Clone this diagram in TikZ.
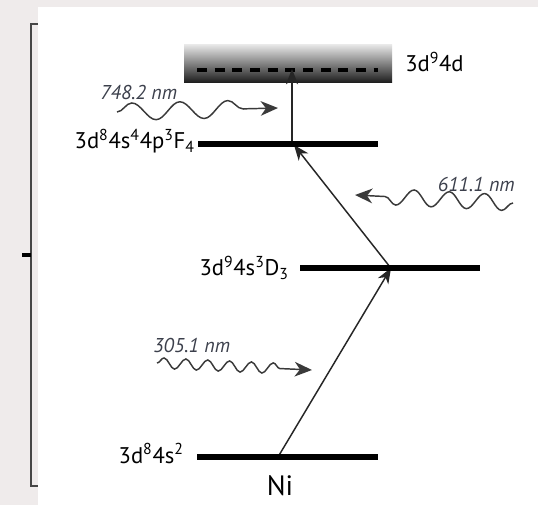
\documentclass[tikz,border=0pt]{standalone}
\usepackage{fontspec}
\setmainfont{PT Sans}
\usepackage{tikz}
\usetikzlibrary{arrows.meta,positioning,decorations.pathmorphing}
\definecolor{bggray}{RGB}{239,235,235}
\definecolor{wavegray}{RGB}{58,58,58}
\definecolor{nmtext}{RGB}{60,64,76}
\definecolor{bracegray}{RGB}{70,70,70}
\tikzset{
  level/.style={fill=black, inner sep=0pt, minimum height=4.2pt},
  excited/.style={inner sep=0pt, minimum width=156pt, minimum height=28pt, top color=black!10, bottom color=black!88},
  dashline/.style={line width=3pt, dash pattern=on 7.5pt off 5.75pt, draw=black},
  trans/.style={-{Stealth[length=11.5pt,width=9pt,inset=3.5pt]}, line width=1.1pt, draw=black!85},
  photon/.style={-{Stealth[length=13pt,width=11pt,inset=4pt]}, line width=1.1pt, draw=wavegray, decorate},
  lvlabel/.style={inner sep=0pt, font=\fontsize{17}{20}\selectfont},
  nmlabel/.style={inner sep=0pt, text=nmtext, font=\fontsize{15}{18}\selectfont\itshape},
  brace/.style={line width=1.9pt, draw=bracegray},
}

\begin{document}
\begin{tikzpicture}[x=0.75pt,y=-0.75pt]
  \useasboundingbox (0,0) rectangle (538,505);
  \fill[bggray] (0,0) rectangle (538,505);
  \fill[white] (38,7) rectangle (538,505);
  \draw[brace] (38,24) -- (31,24) -- (31,486) -- (38,486);
  \draw[brace, line width=3pt, draw=black] (22,255) -- (31,255);

  \node[excited] (ex) at (288,63.5) {};
  \draw[dashline] (197,70) -- (378,70);
  \node[lvlabel, anchor=base west] (lex) at (405,72) {3d\textsuperscript{9}4d};

  \coordinate (fa) at (292,144);
  \coordinate (ea) at (292,69);
  \coordinate (fb) at (294,145);
  \coordinate (da) at (390,267);
  \coordinate (db) at (391,268);
  \coordinate (ga) at (278,457);
  \draw[trans] (fa) -- (ea);
  \draw[trans] (da) -- (fb);
  \draw[trans] (ga) -- (db);

  \node[level, minimum width=135pt] (f4) at (288,144) {};
  \node[level, minimum width=135pt] (d3) at (390,268) {};
  \node[level, minimum width=136pt] (g0) at (287.5,457) {};

  \node[lvlabel, anchor=base east] (lf4) at (195,149) {3d\textsuperscript{8}4s\textsuperscript{4}4p\textsuperscript{3}F\textsubscript{4}};
  \node[lvlabel, anchor=base east] (ld3) at (289,276) {3d\textsuperscript{9}4s\textsuperscript{3}D\textsubscript{3}};
  \node[lvlabel, anchor=base east] (lg0) at (184,463) {3d\textsuperscript{8}4s\textsuperscript{2}};
  \node[inner sep=0pt, anchor=base, font=\fontsize{21}{24}\selectfont] (ni) at (280,495) {Ni};

  \coordinate (w1a) at (117,112);
  \coordinate (w1b) at (278,108);
  \coordinate (w2a) at (513,203);
  \coordinate (w2b) at (355,195);
  \coordinate (w3a) at (157,363);
  \coordinate (w3b) at (312,370);
  \draw[photon, decoration={snake, amplitude=6.5pt, segment length=36pt, post length=12.8pt}] (w1a) -- (w1b);
  \draw[photon, decoration={snake, amplitude=6pt, segment length=26.5pt, post length=12.6pt}] (w2a) -- (w2b);
  \draw[photon, decoration={snake, amplitude=4pt, segment length=16.4pt, post length=18pt}] (w3a) -- (w3b);

  \node[nmlabel, anchor=base west] (n1) at (100,100) {748.2 nm};
  \node[nmlabel, anchor=base east] (n2) at (515,192) {611.1 nm};
  \node[nmlabel, anchor=base west] (n3) at (153,353) {305.1 nm};
\end{tikzpicture}
\end{document}
